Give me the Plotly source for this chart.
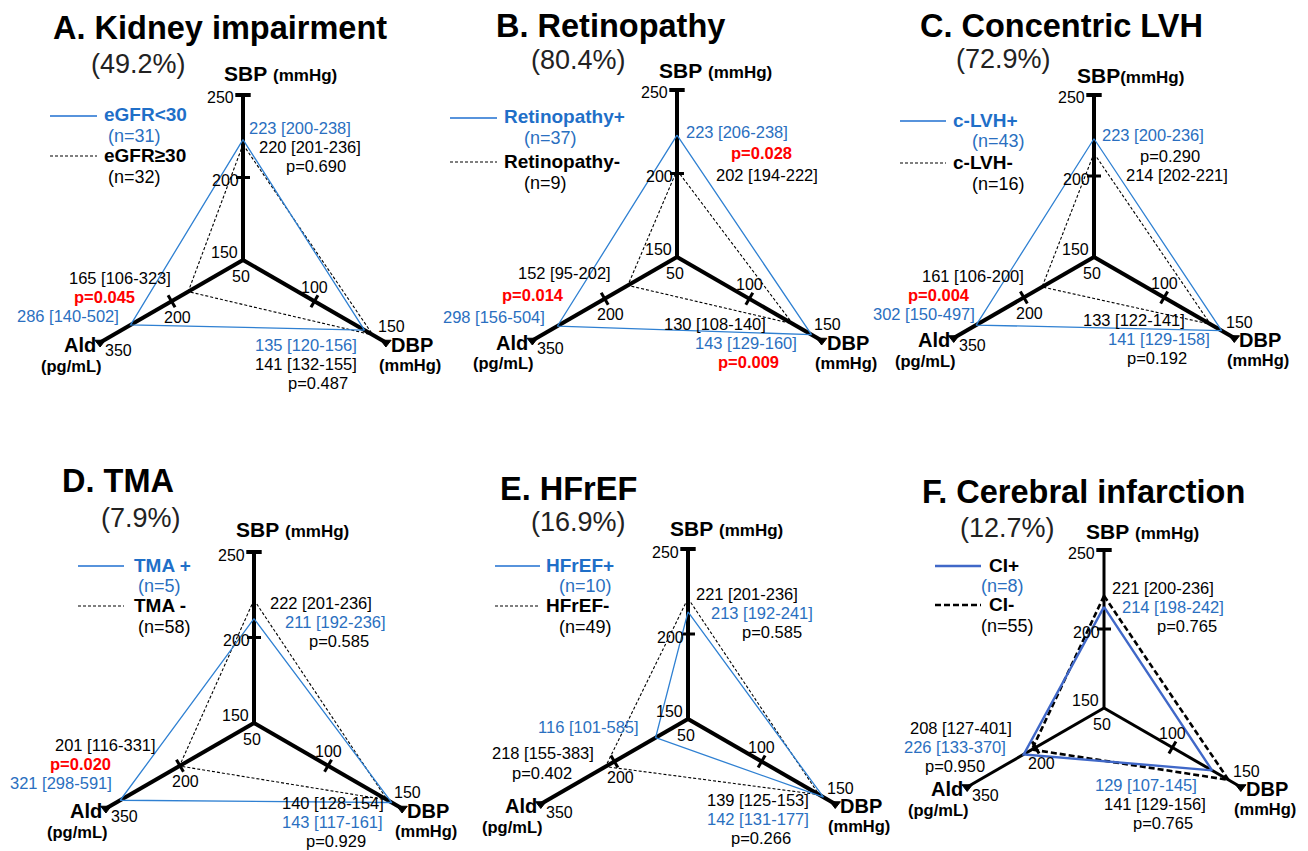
import math
import plotly.graph_objects as go

W, H = 1308, 851

# ---------------- data ----------------
titles = ["A. Kidney impairment", "B. Retinopathy", "C. Concentric LVH",
          "D. TMA", "E. HFrEF", "F. Cerebral infarction"]
prevalence = ["(49.2%)", "(80.4%)", "(72.9%)", "(7.9%)", "(16.9%)", "(12.7%)"]
pos_names = ["eGFR<30", "Retinopathy+", "c-LVH+", "TMA +", "HFrEF+", "CI+"]
neg_names = ["eGFR≥30", "Retinopathy-", "c-LVH-", "TMA -", "HFrEF-", "CI-"]
pos_n = [31, 37, 43, 5, 10, 8]
neg_n = [32, 9, 16, 58, 49, 55]

pos_sbp = [223, 223, 223, 211, 213, 214]
pos_sbp_iqr = ["200-238", "206-238", "200-236", "192-236", "192-241", "198-242"]
neg_sbp = [220, 202, 214, 222, 221, 221]
neg_sbp_iqr = ["201-236", "194-222", "202-221", "201-236", "201-236", "200-236"]

pos_dbp = [135, 143, 141, 143, 142, 129]
pos_dbp_iqr = ["120-156", "129-160", "129-158", "117-161", "131-177", "107-145"]
neg_dbp = [141, 130, 133, 140, 139, 141]
neg_dbp_iqr = ["132-155", "108-140", "122-141", "128-154", "125-153", "129-156"]

pos_ald = [286, 298, 302, 321, 116, 226]
pos_ald_iqr = ["140-502", "156-504", "150-497", "298-591", "101-585", "133-370"]
neg_ald = [165, 152, 161, 201, 218, 208]
neg_ald_iqr = ["106-323", "95-202", "106-200", "116-331", "155-383", "127-401"]

p_sbp = [0.690, 0.028, 0.290, 0.585, 0.585, 0.765]
p_dbp = [0.487, 0.009, 0.192, 0.929, 0.266, 0.765]
p_ald = [0.045, 0.014, 0.004, 0.020, 0.402, 0.950]

# axis scales (SBP, DBP, Ald)
axis_min = [150, 50, 50]
axis_mid = [200, 100, 200]
axis_max = [250, 150, 350]
axis_angle = [90, -30, 210]

# ---------------- layout (pixels) ----------------
FONT = "Arial, Liberation Sans, sans-serif"
BLUE_LINE = "#2f80d2"
BLUE_TEXT = "#2a6fc0"
RED = "#ff0000"
VAL_FS = 16.5

centers = [(243, 260), (677, 257), (1094, 257), (254, 723), (688, 719), (1104, 708)]
lengths = [165, 167, 162, 171, 170, 158]
boxes = [(0, 436, 0, 425), (436, 872, 0, 425), (872, 1308, 0, 425),
         (0, 436, 425, 851), (436, 872, 425, 851), (872, 1308, 425, 851)]
title_pos = [(52, 28), (495, 26), (919, 26), (61, 481), (499, 489), (921, 492)]
prev_pos = [(90, 64), (530, 60), (955, 59), (100, 518), (530, 522), (959, 528)]
sbp_title_pos = [(223, 74), (658, 71), (1076, 75), (235, 529), (669, 528), (1085, 531)]
# legend: line x0, x1, y_pos, label_x, n_x, y_neg
legend_pos = [(50, 97, 116, 103, 107, 156), (450, 497, 118, 503, 523, 162),
              (900, 946, 121, 952, 971, 163), (78, 124, 566, 133, 137, 606),
              (495, 540, 566, 545, 558, 606), (935, 981, 566, 988, 980, 605)]
# value labels: (x_left, y_center)
lab_pos_sbp = [(248, 128), (685, 132), (1101, 135), (284, 622), (710, 613), (1121, 607)]
lab_neg_sbp = [(258, 147), (715, 175), (1125, 175), (269, 603), (695, 594), (1111, 588)]
lab_p_sbp = [(285, 166), (730, 153), (1139, 156), (308, 641), (741, 632), (1156, 626)]
lab_pos_dbp = [(254, 345), (694, 343), (1107, 339), (281, 822), (706, 819), (1094, 785)]
lab_neg_dbp = [(254, 364), (663, 324), (1082, 320), (281, 803), (706, 800), (1103, 804)]
lab_p_dbp = [(287, 383), (717, 362), (1126, 358), (305, 841), (730, 838), (1132, 823)]
lab_pos_ald = [(16, 316), (442, 317), (872, 314), (9, 783), (537, 727), (903, 747)]
lab_neg_ald = [(68, 278), (517, 273), (921, 276), (54, 745), (491, 753), (909, 728)]
lab_p_ald = [(73, 297), (501, 295), (907, 295), (49, 764), (511, 773), (924, 766)]

fig = go.Figure()
annotations = []
shapes = []


def ann(text, X, Y, size=17, color="black", xanchor="left", yanchor="middle"):
    annotations.append(dict(text=text, x=X / W, y=1 - Y / H, xref="paper", yref="paper",
                            xanchor=xanchor, yanchor=yanchor, showarrow=False, borderpad=0,
                            font=dict(family=FONT, size=size, color=color)))


def unit_xy(axis, value):
    r = (value - axis_min[axis]) / (axis_max[axis] - axis_min[axis])
    a = math.radians(axis_angle[axis])
    return r * math.cos(a), r * math.sin(a)


for k in range(6):
    cx, cy = centers[k]
    L = lengths[k]
    bx0, bx1, by0, by1 = boxes[k]
    xa = "x" if k == 0 else f"x{k + 1}"
    ya = "y" if k == 0 else f"y{k + 1}"
    xname = "xaxis" if k == 0 else f"xaxis{k + 1}"
    yname = "yaxis" if k == 0 else f"yaxis{k + 1}"
    fig.layout[xname] = dict(domain=[bx0 / W, bx1 / W], range=[(bx0 - cx) / L, (bx1 - cx) / L],
                             visible=False, anchor=ya, fixedrange=True)
    fig.layout[yname] = dict(domain=[1 - by1 / H, 1 - by0 / H], range=[(cy - by1) / L, (cy - by0) / L],
                             visible=False, anchor=xa, fixedrange=True)
    is_f = (k == 5)
    axw = 3 if is_f else 4

    # axes
    for ax in range(3):
        ex, ey = unit_xy(ax, axis_max[ax])
        fig.add_trace(go.Scatter(x=[0, ex], y=[0, ey], xaxis=xa, yaxis=ya, mode="lines",
                                 line=dict(color="black", width=axw),
                                 hoverinfo="skip", showlegend=False))
    # axis end caps
    ends = [unit_xy(ax, axis_max[ax]) for ax in range(3)]
    fig.add_trace(go.Scatter(x=[ends[0][0]], y=[ends[0][1]], xaxis=xa, yaxis=ya, mode="markers",
                             marker=dict(symbol="line-ew-open", size=11, color="black",
                                         line=dict(color="black", width=4)),
                             hoverinfo="skip", showlegend=False))
    fig.add_trace(go.Scatter(x=[ends[1][0], ends[2][0]], y=[ends[1][1], ends[2][1]], xaxis=xa, yaxis=ya,
                             mode="markers",
                             marker=dict(symbol="triangle-down", size=9, color="black",
                                         line=dict(color="black", width=1)),
                             hoverinfo="skip", showlegend=False))
    # mid ticks
    mx, my = zip(*[unit_xy(ax, axis_mid[ax]) for ax in range(3)])
    fig.add_trace(go.Scatter(x=list(mx), y=list(my), xaxis=xa, yaxis=ya, mode="markers",
                             marker=dict(symbol=["line-ew-open", "line-ns-open", "line-ns-open"],
                                         angle=[0, 30, -30], size=10, color="black",
                                         line=dict(color="black", width=3)),
                             hoverinfo="skip", showlegend=False))

    # series polygons
    neg_vals = [neg_sbp[k], neg_dbp[k], neg_ald[k]]
    pos_vals = [pos_sbp[k], pos_dbp[k], pos_ald[k]]
    nxy = [unit_xy(ax, v) for ax, v in enumerate(neg_vals)]
    pxy = [unit_xy(ax, v) for ax, v in enumerate(pos_vals)]
    nxy.append(nxy[0])
    pxy.append(pxy[0])
    fig.add_trace(go.Scatter(x=[p[0] for p in nxy], y=[p[1] for p in nxy], xaxis=xa, yaxis=ya,
                             mode="lines",
                             line=dict(color="black", width=2.6 if is_f else 1.1,
                                       dash="6px,3px" if is_f else "3px,2px"),
                             hoverinfo="skip", showlegend=False))
    fig.add_trace(go.Scatter(x=[p[0] for p in pxy], y=[p[1] for p in pxy], xaxis=xa, yaxis=ya,
                             mode="lines",
                             line=dict(color="#4068c8" if is_f else BLUE_LINE,
                                       width=2.4 if is_f else 1.3),
                             hoverinfo="skip", showlegend=False))

    # pixel geometry for labels
    def pix(ax, value):
        ux, uy = unit_xy(ax, value)
        return cx + L * ux, cy - L * uy

    top = pix(0, axis_max[0])
    dend = pix(1, axis_max[1])
    aend = pix(2, axis_max[2])
    dmid = pix(1, axis_mid[1])
    amid = pix(2, axis_mid[2])
    smid = pix(0, axis_mid[0])

    # tick labels
    ann(str(axis_max[0]), cx - 8, top[1] + 3, 16, xanchor="right")
    ann(str(axis_mid[0]), cx - 3, smid[1] + 3, 16, xanchor="right")
    ann(str(axis_min[0]), cx - 4, cy - 8, 16, xanchor="right")
    ann(str(axis_min[1]), cx - 12, cy + 16, 16)
    ann(str(axis_mid[1]), dmid[0], dmid[1] - 14, 16, xanchor="center")
    ann(str(axis_max[1]), dend[0] - 9, dend[1] - 16, 16)
    ann(str(axis_mid[2]), amid[0] + 6, amid[1] + 16, 16, xanchor="center")
    ann(str(axis_max[2]), aend[0] + 4, aend[1] + 8, 16)

    # axis titles
    sep = "" if k == 2 else " "
    ann(f"<b>SBP</b>{sep}<b><span style='font-size:17px'>(mmHg)</span></b>",
        sbp_title_pos[k][0], sbp_title_pos[k][1], 21)
    ann("<b>DBP</b>", dend[0] + 4, dend[1] + 2, 20)
    ann("<b>(mmHg)</b>", dend[0] - 8, dend[1] + 22, 16.5)
    ann("<b>Ald</b>", aend[0] - 3, aend[1] + 2, 20, xanchor="right")
    ann("<b>(pg/mL)</b>", aend[0] + 2, aend[1] + 23, 16.5, xanchor="right")

    # titles
    ann(f"<b>{titles[k]}</b>", title_pos[k][0], title_pos[k][1], 32.5)
    ann(prevalence[k], prev_pos[k][0], prev_pos[k][1], 27, color="#222222")

    # legend
    lx0, lx1, ly_pos, lab_x, n_x, ly_neg = legend_pos[k]
    shapes.append(dict(type="line", xref="paper", yref="paper", x0=lx0 / W, x1=lx1 / W,
                       y0=1 - ly_pos / H, y1=1 - ly_pos / H,
                       line=dict(color="#4068c8" if is_f else "#1f6fd0", width=2.6 if is_f else 1.4)))
    shapes.append(dict(type="line", xref="paper", yref="paper", x0=lx0 / W, x1=lx1 / W,
                       y0=1 - ly_neg / H, y1=1 - ly_neg / H,
                       line=dict(color="black", width=2.6 if is_f else 1.1,
                                 dash="6px,3px" if is_f else "3px,2px")))
    ann(f"<b>{pos_names[k]}</b>", lab_x, ly_pos - 1, 19, color="black" if is_f else "#1f6fc8")
    ann(f"(n={pos_n[k]})", n_x, ly_pos + 20, 18, color=BLUE_TEXT)
    ann(f"<b>{neg_names[k]}</b>", lab_x, ly_neg - 1, 19)
    ann(f"(n={neg_n[k]})", n_x, ly_neg + 21, 18)

    # value labels
    ann(f"{pos_sbp[k]} [{pos_sbp_iqr[k]}]", *lab_pos_sbp[k], VAL_FS, color=BLUE_TEXT)
    ann(f"{neg_sbp[k]} [{neg_sbp_iqr[k]}]", *lab_neg_sbp[k], VAL_FS)
    ann(f"{pos_dbp[k]} [{pos_dbp_iqr[k]}]", *lab_pos_dbp[k], VAL_FS, color=BLUE_TEXT)
    ann(f"{neg_dbp[k]} [{neg_dbp_iqr[k]}]", *lab_neg_dbp[k], VAL_FS)
    ann(f"{pos_ald[k]} [{pos_ald_iqr[k]}]", *lab_pos_ald[k], VAL_FS, color=BLUE_TEXT)
    ann(f"{neg_ald[k]} [{neg_ald_iqr[k]}]", *lab_neg_ald[k], VAL_FS)
    for pv, pos in ((p_sbp[k], lab_p_sbp[k]), (p_dbp[k], lab_p_dbp[k]), (p_ald[k], lab_p_ald[k])):
        if pv < 0.05:
            ann(f"<b>p={pv:.3f}</b>", *pos, VAL_FS, color=RED)
        else:
            ann(f"p={pv:.3f}", *pos, VAL_FS)

fig.update_layout(width=W, height=H, margin=dict(l=0, r=0, t=0, b=0),
                  paper_bgcolor="white", plot_bgcolor="white", showlegend=False,
                  annotations=annotations, shapes=shapes,
                  font=dict(family=FONT))
fig.write_html("out.html", config={"displayModeBar": False},
               post_script="document.body.style.margin='0px';")
